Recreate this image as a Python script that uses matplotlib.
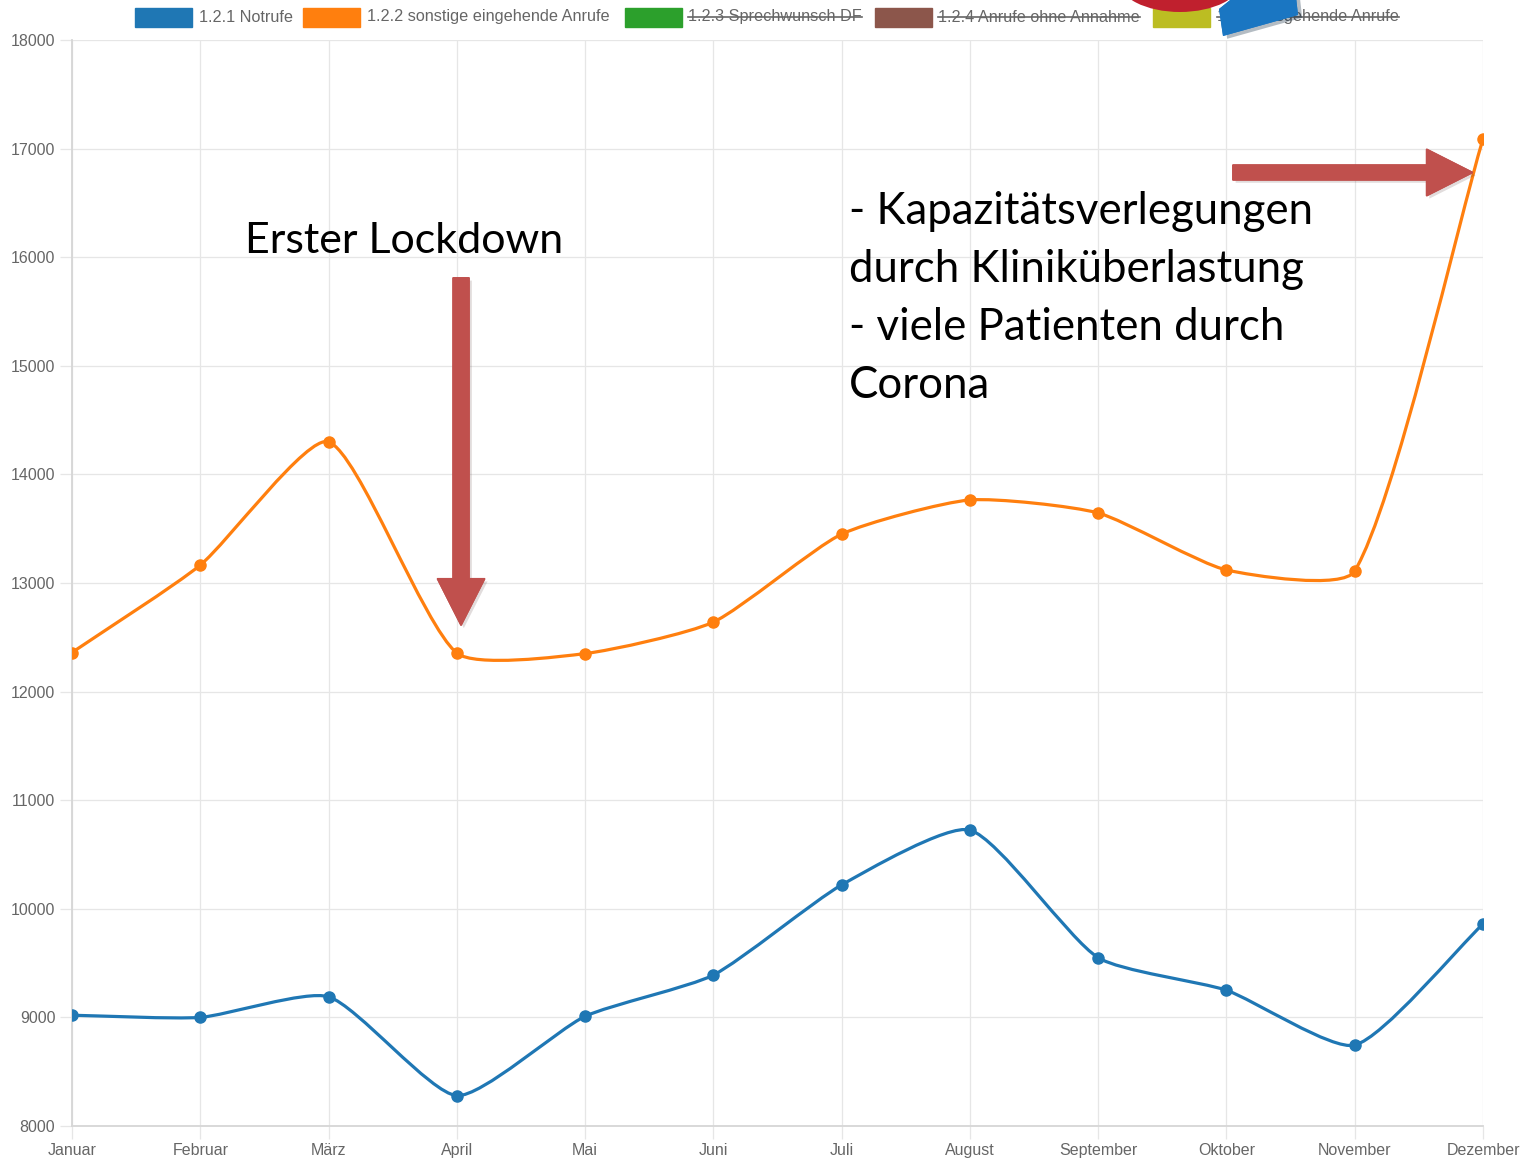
import matplotlib
matplotlib.use('Agg')
import matplotlib.pyplot as plt
import matplotlib.patheffects as pe
import numpy as np
from matplotlib.path import Path
from matplotlib.patches import PathPatch, Rectangle, FancyArrow, Ellipse, Polygon

# Daten
monate = ['Januar', 'Februar', 'März', 'April', 'Mai', 'Juni', 'Juli',
          'August', 'September', 'Oktober', 'November', 'Dezember']
notrufe = [9020, 9000, 9190, 8280, 9010, 9390, 10220, 10725, 9550, 9250, 8745, 9860]
sonstige = [12360, 13165, 14300, 12355, 12350, 12640, 13450, 13765, 13645, 13120, 13110, 17090]
y_ticks = [8000, 9000, 10000, 11000, 12000, 13000, 14000, 15000, 16000, 17000, 18000]

legend_labels = ['1.2.1 Notrufe', '1.2.2 sonstige eingehende Anrufe', '1.2.3 Sprechwunsch DF',
                 '1.2.4 Anrufe ohne Annahme', '1.2.5 ausgehende Anrufe']
legend_colors = ['#1f77b4', '#ff7f0e', '#2ca02c', '#8c564b', '#bcbd22']
legend_hidden = [False, False, True, True, True]

W, H = 1528, 1158
GRID = '#e6e6e6'
TXT = '#666666'
PFEIL = '#c0504d'


def px(x, y):
    """Pixelkoordinaten -> Figure-Koordinaten"""
    return x / W, 1 - y / H


def spline_path(ax, xs, ys, tension=0.2):
    """Geglaettete Kurve (kubische Bezier-Segmente wie Chart.js)"""
    pts = ax.transData.transform(np.column_stack([xs, ys]))
    n = len(pts)
    cp_prev, cp_next = [], []
    for i in range(n):
        prev = pts[max(i - 1, 0)]
        cur = pts[i]
        nxt = pts[min(i + 1, n - 1)]
        d01 = np.hypot(*(cur - prev))
        d12 = np.hypot(*(nxt - cur))
        tot = d01 + d12
        s01 = d01 / tot if tot else 0
        s12 = d12 / tot if tot else 0
        cp_prev.append(cur - tension * s01 * (nxt - prev))
        cp_next.append(cur + tension * s12 * (nxt - prev))
    verts = [pts[0]]
    codes = [Path.MOVETO]
    for i in range(n - 1):
        verts += [cp_next[i], cp_prev[i + 1], pts[i + 1]]
        codes += [Path.CURVE4] * 3
    inv = ax.transData.inverted()
    return Path(inv.transform(np.array(verts)), codes)


plt.rcParams['font.family'] = ['Liberation Sans', 'DejaVu Sans']

fig = plt.figure(figsize=(W / 100, H / 100), dpi=100)
x0, y0 = px(72, 1126)
x1, y1 = px(1483, 40)
ax = fig.add_axes([x0, y0, x1 - x0, y1 - y0])

x = np.arange(len(monate))
ax.set_xlim(0, len(monate) - 1)
ax.set_ylim(8000, 18000)
ax.set_xticks(x)
ax.set_xticklabels(monate)
ax.set_yticks(y_ticks)
ax.set_yticklabels([str(v) for v in y_ticks])
ax.grid(True, color=GRID, linewidth=0.9)
ax.set_axisbelow(True)
ax.tick_params(length=9, width=0.9, color=GRID, labelsize=11.5, labelcolor=TXT, pad=3)
for s in ['top', 'right']:
    ax.spines[s].set_visible(False)
for s in ['left', 'bottom']:
    ax.spines[s].set_color('#d6d6d6')
    ax.spines[s].set_linewidth(1.3)

for werte, farbe in [(sonstige, '#ff7f0e'), (notrufe, '#1f77b4')]:
    ax.add_patch(PathPatch(spline_path(ax, x, werte), facecolor='none',
                           edgecolor=farbe, linewidth=2.3, zorder=3))
    ax.plot(x, werte, 'o', color=farbe, markersize=8, zorder=4)

# Pfeile
schatten = [pe.withSimplePatchShadow(offset=(2, -2), alpha=0.15), pe.Normal()]
ax.add_patch(FancyArrow(3.033, 15810, 0, -3200, width=0.125, head_width=0.37,
                        head_length=430, length_includes_head=True,
                        color=PFEIL, zorder=5, path_effects=schatten))
ax.add_patch(FancyArrow(9.05, 16780, 1.87, 0, width=138, head_width=430,
                        head_length=0.36, length_includes_head=True,
                        color=PFEIL, zorder=5, path_effects=schatten))

# Anmerkungen
anno_font = ['Lato', 'DejaVu Sans']
fig.text(*px(245, 241), 'Erster Lockdown', fontsize=31, family=anno_font,
         va='center', ha='left', color='black')
zeilen = ['- Kapazitätsverlegungen', 'durch Kliniküberlastung',
          '- viele Patienten durch', 'Corona']
for i, z in enumerate(zeilen):
    fig.text(*px(849, 211 + i * 58), z, fontsize=31.5, family=anno_font,
             va='center', ha='left', color='black')

# Legende (oben, teilweise abgeschnitten)
sw_x = [135, 303, 625, 875, 1153]
tx_x = [199, 367, 688, 938, 1217]
renderer = fig.canvas.get_renderer()
for lab, col, hid, sx, tx in zip(legend_labels, legend_colors, legend_hidden, sw_x, tx_x):
    fx, fy = px(sx, 27)
    fig.add_artist(Rectangle((fx, fy), 57 / W, 19 / H, facecolor=col,
                             edgecolor=col, transform=fig.transFigure))
    t = fig.text(*px(tx, 17), lab, fontsize=11.7, color=TXT, va='center', ha='left')
    if hid:
        bb = t.get_window_extent(renderer).transformed(fig.transFigure.inverted())
        ym = (bb.y0 + bb.y1) / 2
        fig.add_artist(plt.Line2D([bb.x0, bb.x1], [ym, ym], color=TXT,
                                  linewidth=1.2, transform=fig.transFigure))

# Logo-Ausschnitt oben rechts
ex, ey = px(1180, -20)
fig.add_artist(Ellipse((ex, ey), 124 / W, 64 / H, facecolor='#c0202e',
                       edgecolor='none', transform=fig.transFigure, zorder=10))
blau = [px(1219, 9), px(1234, -3), px(1296, -3), px(1298, 15), px(1223, 36)]
fig.add_artist(Polygon(blau, closed=True, facecolor='#1a76c2', edgecolor='none',
                       transform=fig.transFigure, zorder=11,
                       path_effects=[pe.withSimplePatchShadow(offset=(3, -2), alpha=0.3), pe.Normal()]))

fig.savefig('out.png', dpi=100)
